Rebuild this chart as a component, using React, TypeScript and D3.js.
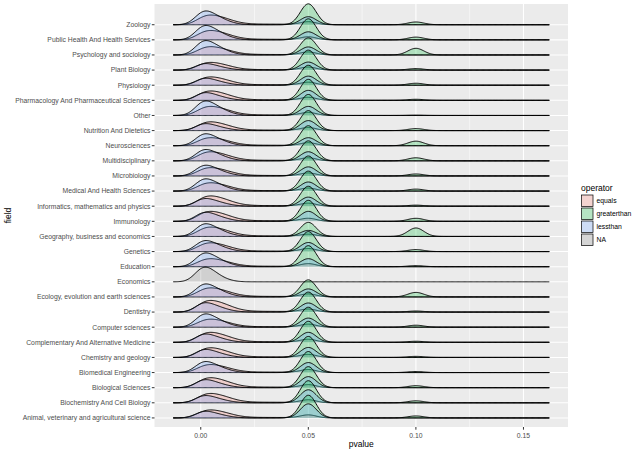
import React from "react";
import * as d3 from "d3";

// Fields (factor order: bottom ridge first)
const fields = [
  "Animal, veterinary and agricultural science",
  "Biochemistry And Cell Biology",
  "Biological Sciences",
  "Biomedical Engineering",
  "Chemistry and geology",
  "Complementary And Alternative Medicine",
  "Computer sciences",
  "Dentistry",
  "Ecology, evolution and earth sciences",
  "Economics",
  "Education",
  "Genetics",
  "Geography, business and economics",
  "Immunology",
  "Informatics, mathematics and physics",
  "Medical And Health Sciences",
  "Microbiology",
  "Multidisciplinary",
  "Neurosciences",
  "Nutrition And Dietetics",
  "Other",
  "Pharmacology And Pharmaceutical Sciences",
  "Physiology",
  "Plant Biology",
  "Psychology and sociology",
  "Public Health And Health Services",
  "Zoology",
];

// Ridge heights (in row units)
const lessNearZero = [0.44, 0.48, 0.53, 0.73, 0.53, 0.55, 0.88, 0.62, 0.86, 0, 0.91, 0.73, 0.84, 0.6, 0.51, 0.81, 0.71, 0.75, 0.79, 0.46, 0.96, 0.51, 0.46, 0.43, 0.95, 0.95, 0.91];
const lessAt05 = [0.93, 0.86, 0.73, 0.66, 0.66, 0.66, 0.6, 0.6, 0.53, 0, 0.53, 0.6, 0.4, 0.66, 0.6, 0.6, 0.6, 0.6, 0.53, 0.66, 0.6, 0.66, 0.6, 0.53, 0.53, 0.53, 0.53];
const equalsNearZero = [0.53, 0.62, 0.66, 0.53, 0.64, 0.66, 0.53, 0.77, 0.6, 0, 0.53, 0.58, 0.62, 0.66, 0.68, 0.55, 0.55, 0.6, 0.53, 0.58, 0.6, 0.62, 0.55, 0.51, 0.55, 0.62, 0.64];
const equalsAt05 = [0.2, 0.2, 0.2, 0.2, 0.2, 0.2, 0.2, 0.2, 0.2, 0, 0.2, 0.2, 0.15, 0.2, 0.2, 0.2, 0.2, 0.2, 0.2, 0.2, 0.2, 0.2, 0.2, 0.2, 0.2, 0.2, 0.2];
const greaterAt05 = [1.5, 1.46, 1.39, 1.39, 1.39, 1.39, 1.32, 1.32, 1.13, 0, 1.39, 1.32, 0.93, 1.39, 1.32, 1.32, 1.32, 1.32, 1.32, 1.32, 1.39, 1.39, 1.32, 1.32, 1.13, 1.39, 1.38];
const greaterAt10 = [0.13, 0.13, 0.13, 0.07, 0.07, 0.07, 0.13, 0.07, 0.3, 0, 0.07, 0.13, 0.56, 0.2, 0.07, 0.13, 0.13, 0.2, 0.3, 0.13, 0.02, 0.07, 0.13, 0.1, 0.44, 0.18, 0.18];
const naNearZero = [0, 0, 0, 0, 0, 0, 0, 0, 0, 0.97, 0, 0, 0, 0, 0, 0, 0, 0, 0, 0, 0, 0, 0, 0, 0, 0, 0];

// Shapes of the low-p lumps: reported p-value levels and their relative weights
const lessLevels = [0.0, 0.003, 0.006, 0.009, 0.012, 0.016];
const lessWeights = [1, 0.7, 0.5, 0.35, 0.2, 0.08];
const equalsLevels = [0.0, 0.003, 0.006, 0.009, 0.012, 0.015, 0.019, 0.024, 0.03, 0.036, 0.042];
const equalsWeights = [0.6, 0.65, 0.6, 0.5, 0.38, 0.25, 0.14, 0.08, 0.07, 0.065, 0.06];
const naLevels = [0.0, 0.003, 0.006, 0.009, 0.013];
const naWeights = [1, 0.65, 0.45, 0.25, 0.1];

const operators = ["equals", "greaterthan", "lessthan", "NA"];
const opColors = ["#F8766D", "#00BA38", "#619CFF", "#7F7F7F"];

const xTicks = [0, 0.05, 0.1, 0.15];
const xTickLabels = ["0.00", "0.05", "0.10", "0.15"];
const xMinorTicks = [0.025, 0.075, 0.125];
const pRange = [-0.0128, 0.162];

const BW = 0.0037;
const FONT = "'Liberation Sans', Arial, Helvetica, sans-serif";

function kernelSum(levels: number[], weights: number[], v: number) {
  let s = 0;
  for (let i = 0; i < levels.length; i++) {
    const z = (v - levels[i]) / BW;
    s += weights[i] * Math.exp(-0.5 * z * z);
  }
  return s;
}

export default function App() {
  const W = 640, H = 452;
  const panel = { left: 154.5, right: 568, top: 4, bottom: 427 };
  const x = d3.scaleLinear().domain([-0.0215, 0.1707]).range([panel.left, panel.right]);
  const y = d3.scaleLinear().domain([0.4, 28.37]).range([panel.bottom, panel.top]);

  const grid = d3.range(pRange[0], pRange[1] + 1e-9, 0.0004);
  const norm = (lv: number[], wt: number[]) => {
    const m = d3.max(grid.filter((g) => g < 0.03), (g) => kernelSum(lv, wt, g)) as number;
    return (v: number) => kernelSum(lv, wt, v) / m;
  };
  const lessShape = norm(lessLevels, lessWeights);
  const eqShape = norm(equalsLevels, equalsWeights);
  const naShape = norm(naLevels, naWeights);
  const peak = (c: number, v: number) => {
    const z = (v - c) / BW;
    return Math.exp(-0.5 * z * z);
  };

  const ridges: { row: number; op: number; pts: [number, number][] }[] = [];
  // draw from top row to bottom row so lower ridges sit in front
  for (let r = fields.length - 1; r >= 0; r--) {
    const dens: ((v: number) => number)[] = [
      (v) => equalsNearZero[r] * eqShape(v) + equalsAt05[r] * peak(0.05, v),
      (v) => greaterAt05[r] * peak(0.05, v) + greaterAt10[r] * peak(0.1, v),
      (v) => lessNearZero[r] * lessShape(v) + lessAt05[r] * peak(0.05, v),
      (v) => naNearZero[r] * naShape(v),
    ];
    const present = [
      equalsNearZero[r] > 0,
      greaterAt05[r] > 0,
      lessNearZero[r] > 0,
      naNearZero[r] > 0,
    ];
    dens.forEach((f, op) => {
      if (!present[op]) return;
      ridges.push({ row: r, op, pts: grid.map((g) => [g, f(g)] as [number, number]) });
    });
  }

  const area = (row: number) =>
    d3
      .area<[number, number]>()
      .x((d) => x(d[0]))
      .y0(y(row + 1))
      .y1((d) => y(row + 1 + d[1]));
  const line = (row: number) =>
    d3
      .line<[number, number]>()
      .x((d) => x(d[0]))
      .y((d) => y(row + 1 + d[1]));

  const legendX = 581;
  const legendTop = 194.5;
  const keySize = 12.5;

  return (
    <svg
      width={W}
      height={H}
      style={{ position: "absolute", left: 0, top: 0, background: "#fff" }}
      fontFamily={FONT}
    >
      <rect x={0} y={0} width={W} height={H} fill="#fff" />
      <rect
        x={panel.left}
        y={panel.top}
        width={panel.right - panel.left}
        height={panel.bottom - panel.top}
        fill="#EBEBEB"
      />
      {xMinorTicks.map((t) => (
        <line key={"mx" + t} x1={x(t)} x2={x(t)} y1={panel.top} y2={panel.bottom} stroke="#fff" strokeWidth={0.5} />
      ))}
      {xTicks.map((t) => (
        <line key={"gx" + t} x1={x(t)} x2={x(t)} y1={panel.top} y2={panel.bottom} stroke="#fff" strokeWidth={1.07} />
      ))}
      {fields.map((f, i) => (
        <line key={"gy" + i} x1={panel.left} x2={panel.right} y1={y(i + 1)} y2={y(i + 1)} stroke="#fff" strokeWidth={1.07} />
      ))}

      {ridges.map((rd, i) => (
        <g key={"r" + i}>
          <path d={area(rd.row)(rd.pts) as string} fill={opColors[rd.op]} fillOpacity={0.25} stroke="none" />
          <path d={line(rd.row)(rd.pts) as string} fill="none" stroke="#000" strokeWidth={0.95} />
        </g>
      ))}

      {/* y axis */}
      {fields.map((f, i) => (
        <g key={"yl" + i}>
          <line x1={panel.left - 2.7} x2={panel.left} y1={y(i + 1)} y2={y(i + 1)} stroke="#333" strokeWidth={1} />
          <text
            x={panel.left - 4}
            y={y(i + 1)}
            dy="0.35em"
            textAnchor="end"
            fontSize={6.8}
            fill="#4D4D4D"
          >
            {f}
          </text>
        </g>
      ))}
      {/* x axis */}
      {xTicks.map((t, i) => (
        <g key={"xl" + t}>
          <line x1={x(t)} x2={x(t)} y1={panel.bottom} y2={panel.bottom + 2.7} stroke="#333" strokeWidth={1} />
          <text x={x(t)} y={panel.bottom + 10.5} textAnchor="middle" fontSize={6.8} fill="#4D4D4D">
            {xTickLabels[i]}
          </text>
        </g>
      ))}
      <text x={(panel.left + panel.right) / 2} y={447} textAnchor="middle" fontSize={8.5} fill="#000">
        pvalue
      </text>
      <text
        transform={`translate(11, ${(panel.top + panel.bottom) / 2}) rotate(-90)`}
        textAnchor="middle"
        fontSize={8.5}
        fill="#000"
      >
        field
      </text>

      {/* legend */}
      <text x={legendX} y={legendTop - 4} fontSize={8.5} fill="#000">
        operator
      </text>
      {operators.map((op, i) => (
        <g key={"lg" + op}>
          <rect x={legendX} y={legendTop + i * (keySize + 0.5)} width={keySize} height={keySize} fill="#F2F2F2" stroke="#fff" strokeWidth={0.5} />
          <rect
            x={legendX + 0.5}
            y={legendTop + i * (keySize + 0.5) + 0.5}
            width={keySize - 1}
            height={keySize - 1}
            fill={opColors[i]}
            fillOpacity={0.25}
            stroke="#000"
            strokeWidth={0.7}
          />
          <text
            x={legendX + keySize + 3}
            y={legendTop + i * (keySize + 0.5) + keySize / 2}
            dy="0.35em"
            fontSize={6.8}
            fill="#000"
          >
            {op}
          </text>
        </g>
      ))}
    </svg>
  );
}
